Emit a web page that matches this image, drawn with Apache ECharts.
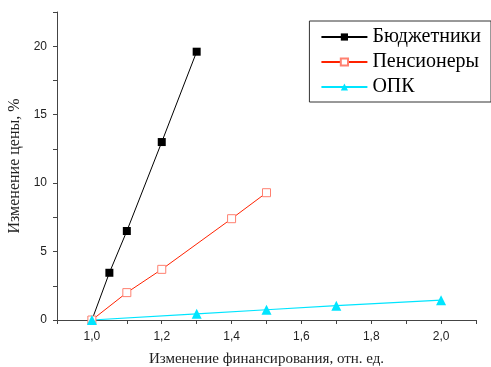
<!DOCTYPE html>
<html><head><meta charset="utf-8">
<script src="https://cdn.jsdelivr.net/npm/echarts@6/dist/echarts.min.js"></script>
<style>html,body{margin:0;padding:0;background:#fff}#c{width:491px;height:367px}</style>
</head><body><div id="c"></div>
<script>
const seriesNames = ['Бюджетники', 'Пенсионеры', 'ОПК'];
const budgetX = [1.0, 1.05, 1.1, 1.2, 1.3];
const budgetY = [0, 3.45, 6.5, 13.0, 19.6];
const pensX = [1.0, 1.1, 1.2, 1.4, 1.5];
const pensY = [0, 2.0, 3.7, 7.4, 9.3];
const opkX = [1.0, 1.3, 1.5, 1.7, 2.0];
const opkY = [0, 0.45, 0.75, 1.05, 1.45];
const xTickLabels = ['1,0', '1,2', '1,4', '1,6', '1,8', '2,0'];
const yTickLabels = ['0', '5', '10', '15', '20'];
const xTitle = 'Изменение финансирования, отн. ед.';
const yTitle = 'Изменение цены, %';

const zip = (a, b) => a.map((v, i) => [v, b[i]]);
const fmtX = v => { const s = v.toFixed(1).replace('.', ','); return xTickLabels.includes(s) ? s : ''; };
const fmtY = v => { const s = String(Math.round(v * 100) / 100); return yTickLabels.includes(s) ? s : ''; };

const chart = echarts.init(document.getElementById('c'));
chart.setOption({
  animation: false,
  grid: { left: 57, right: 15, top: 12, bottom: 47, containLabel: false, outerBoundsMode: 'none' },
  legend: {
    right: 0, top: 21,
    orient: 'vertical',
    itemWidth: 46, itemHeight: 9, itemGap: 5,
    borderColor: '#333', borderWidth: 1,
    padding: [6, 10, 5, 11],
    textStyle: { fontFamily: 'Liberation Serif', fontSize: 20, color: '#000' },
    data: seriesNames
  },
  xAxis: {
    type: 'value', min: 0.9, max: 2.1, interval: 0.1,
    name: xTitle, nameLocation: 'middle', nameGap: 32,
    nameTextStyle: { fontFamily: 'Liberation Serif', fontSize: 15, color: '#222' },
    axisLine: { lineStyle: { color: '#444', width: 1 } },
    axisTick: { show: true, inside: false, length: 4, lineStyle: { color: '#444' } },
    axisLabel: { formatter: fmtX, fontFamily: 'Liberation Sans', fontSize: 12, color: '#222', margin: 11, showMinLabel: true, showMaxLabel: true },
    splitLine: { show: false }
  },
  yAxis: {
    type: 'value', min: 0, max: 22.5, interval: 2.5,
    name: yTitle, nameLocation: 'middle', nameGap: 28,
    nameTextStyle: { fontFamily: 'Liberation Serif', fontSize: 16, color: '#222' },
    axisLine: { show: true, lineStyle: { color: '#444', width: 1 } },
    axisTick: { show: true, inside: false, length: 4, lineStyle: { color: '#444' } },
    axisLabel: { formatter: fmtY, fontFamily: 'Liberation Sans', fontSize: 12, color: '#222', margin: 10 },
    splitLine: { show: false }
  },
  series: [
    { name: seriesNames[0], type: 'line', data: zip(budgetX, budgetY),
      symbol: 'rect', symbolSize: 8,
      lineStyle: { color: '#000', width: 1 },
      itemStyle: { color: '#000', borderColor: '#000', borderWidth: 0 } },
    { name: seriesNames[1], type: 'line', data: zip(pensX, pensY),
      symbol: 'rect', symbolSize: 8,
      lineStyle: { color: '#ff2200', width: 1 },
      itemStyle: { color: '#fff', borderColor: '#ff8070', borderWidth: 1 } },
    { name: seriesNames[2], type: 'line', data: zip(opkX, opkY),
      symbol: 'triangle', symbolSize: 10,
      lineStyle: { color: '#00e5ff', width: 1.2 },
      itemStyle: { color: '#00e5ff', borderWidth: 0 } }
  ]
});
</script></body></html>
